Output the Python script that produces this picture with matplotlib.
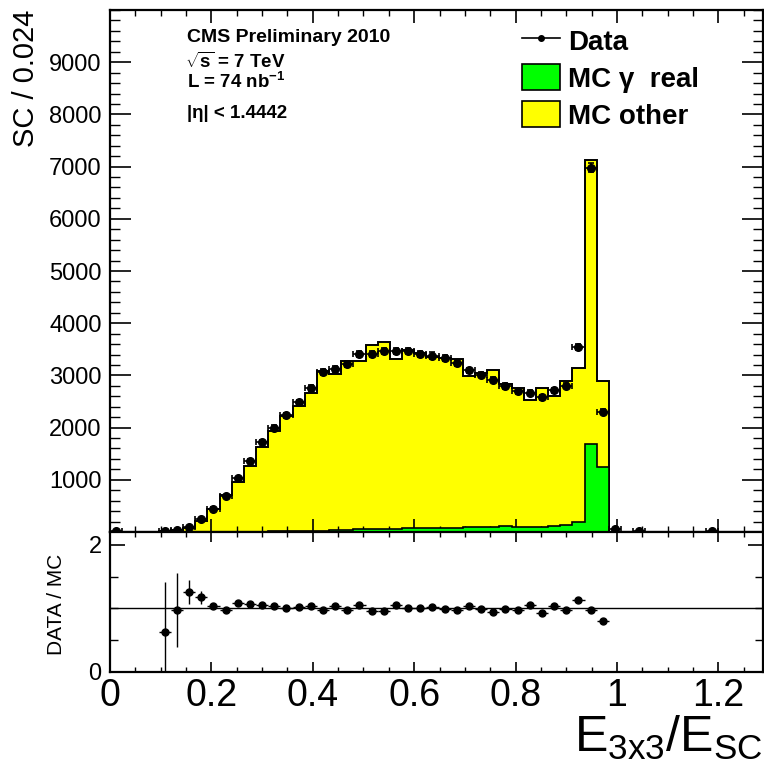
import matplotlib
matplotlib.use("Agg")
import matplotlib.pyplot as plt
import numpy as np
from matplotlib.lines import Line2D
from matplotlib.patches import Patch
from matplotlib.ticker import MultipleLocator, FixedLocator

plt.rcParams["font.family"] = ["Liberation Sans", "DejaVu Sans"]
plt.rcParams["mathtext.fontset"] = "custom"
plt.rcParams["mathtext.rm"] = "Liberation Sans"
plt.rcParams["mathtext.it"] = "Liberation Sans:italic"
plt.rcParams["mathtext.bf"] = "Liberation Sans:bold"

# 54 bins of width 0.024 from 0
bin_width = 0.024
n_bins = 54

data = [15, 0, 0, 0, 15, 35, 92, 253, 450, 686,
        1025, 1356, 1720, 1996, 2238, 2487, 2762, 3061, 3126, 3222,
        3414, 3414, 3464, 3464, 3464, 3414, 3381, 3324, 3241, 3094,
        3017, 2921, 2793, 2697, 2667, 2582, 2711, 2806, 3540, 6977,
        2303, 48, 0, 20, 0, 0, 0, 0, 0, 10,
        0, 0, 0, 0]

mc_total = [0, 0, 0, 0, 24, 36, 73, 216, 434, 700,
            950, 1265, 1625, 1935, 2230, 2420, 2665, 3090, 3020, 3272,
            3272, 3573, 3636, 3305, 3490, 3420, 3350, 3337, 3305, 2998,
            3040, 3113, 2826, 2750, 2525, 2762, 2605, 2889, 3145, 7136,
            2889, 0, 0, 0, 0, 0, 0, 0, 0, 0,
            0, 0, 0, 0]

mc_gamma_real = [0, 0, 0, 0, 0, 0, 0, 0, 0, 0,
                 3, 5, 8, 10, 12, 15, 20, 25, 35, 40,
                 50, 55, 60, 65, 75, 75, 70, 70, 80, 90,
                 95, 95, 120, 95, 100, 105, 120, 140, 200, 1680,
                 1250, 0, 0, 0, 0, 0, 0, 0, 0, 0,
                 0, 0, 0, 0]

# data / MC, bins 4..40
ratio_first_bin = 4
ratio = [0.626, 0.973, 1.257, 1.171, 1.037, 0.979, 1.080, 1.070, 1.059, 1.032,
         1.000, 1.027, 1.037, 0.979, 1.037, 0.979, 1.048, 0.957, 0.957, 1.059,
         1.000, 1.011, 1.021, 0.995, 0.979, 1.032, 0.995, 0.936, 0.989, 0.973,
         1.059, 0.930, 1.037, 0.973, 1.128, 0.973, 0.802]
ratio_err = [0.79, 0.58, 0.19, 0.10, 0.04, 0.03, 0.025, 0.02, 0.02, 0.02,
             0.02, 0.02, 0.02, 0.02, 0.02, 0.02, 0.02, 0.02, 0.02, 0.02,
             0.02, 0.02, 0.02, 0.02, 0.02, 0.02, 0.02, 0.02, 0.02, 0.02,
             0.02, 0.02, 0.02, 0.02, 0.02, 0.015, 0.02]

GREEN = "#00ff00"
YELLOW = "#ffff00"

edges = np.arange(n_bins + 1) * bin_width
centers = edges[:-1] + bin_width / 2
data = np.array(data, dtype=float)
mc_total = np.array(mc_total, dtype=float)
mc_gamma_real = np.array(mc_gamma_real, dtype=float)

fig = plt.figure(figsize=(7.64, 7.64), dpi=100)
W = H = 764.0
left, right = 110 / W, 763 / W
ax = fig.add_axes([left, 1 - 532 / H, right - left, (532 - 10) / H])
axr = fig.add_axes([left, 1 - 672 / H, right - left, (672 - 532) / H])

# stacked MC
ax.stairs(mc_total, edges, baseline=0, fill=True, color=YELLOW, zorder=1)
ax.stairs(mc_total, edges, baseline=0, color="black", lw=1.4, zorder=2)
ax.stairs(mc_gamma_real, edges, baseline=0, fill=True, color=GREEN, zorder=3)
ax.stairs(mc_gamma_real, edges, baseline=0, color="black", lw=1.2, zorder=4)

shown = data > 0
ax.errorbar(centers[shown], data[shown], xerr=bin_width / 2, yerr=np.sqrt(data[shown]),
            fmt="o", color="black", ms=5.5, lw=1.2, capsize=2.5, capthick=1.2, zorder=5)

ax.set_xlim(0, 1.288)
ax.set_ylim(0, 10000)
ax.yaxis.set_major_locator(FixedLocator(np.arange(1000, 10000, 1000)))
ax.yaxis.set_minor_locator(MultipleLocator(200))
ax.xaxis.set_major_locator(MultipleLocator(0.2))
ax.xaxis.set_minor_locator(MultipleLocator(0.05))
ax.tick_params(axis="both", which="both", direction="in", top=True, right=True)
ax.tick_params(axis="y", which="major", length=15, width=1.2, labelsize=17, pad=6)
ax.tick_params(axis="y", which="minor", length=7.5, width=1.0)
ax.tick_params(axis="x", which="major", length=9.5, width=1.2, labelbottom=False)
ax.tick_params(axis="x", which="minor", length=4.5, width=1.0)
for s in ax.spines.values():
    s.set_linewidth(1.6)

# ratio panel
r_x = centers[ratio_first_bin:ratio_first_bin + len(ratio)]
axr.axhline(1.0, color="black", lw=1.0, zorder=1)
axr.errorbar(r_x, ratio, xerr=bin_width / 2, yerr=ratio_err, fmt="o", color="black",
             ms=5, lw=1.0, capsize=0, zorder=3)
axr.set_xlim(0, 1.288)
axr.set_ylim(0, 2.2)
axr.yaxis.set_major_locator(FixedLocator([0, 2]))
axr.yaxis.set_minor_locator(MultipleLocator(0.5))
axr.xaxis.set_major_locator(MultipleLocator(0.2))
axr.xaxis.set_minor_locator(MultipleLocator(0.05))
axr.xaxis.set_major_formatter(plt.FuncFormatter(lambda v, p: f"{v:g}"))
axr.tick_params(axis="both", which="both", direction="in", top=True, right=True)
axr.tick_params(axis="y", which="major", length=11, width=1.2, labelsize=17, pad=6)
axr.tick_params(axis="y", which="minor", length=6, width=1.0)
axr.tick_params(axis="x", which="major", length=7, width=1.2, labelsize=27, pad=4)
axr.tick_params(axis="x", which="minor", length=3.5, width=1.0)
for s in axr.spines.values():
    s.set_linewidth(1.6)

# axis titles
fig.text(763 / W, 2 / H, r"$\mathregular{E_{3x3}/E_{SC}}$", fontsize=36,
         ha="right", va="bottom")
fig.text(26 / W, 1 - 10 / H, "SC / 0.024", fontsize=21, rotation=90,
         ha="center", va="top")
fig.text(57 / W, 1 - 604 / H, "DATA / MC", fontsize=15, rotation=90,
         ha="center", va="center")

# labels
ax.text(187 / W, 1 - 38 / H, "CMS Preliminary 2010", transform=fig.transFigure,
        fontsize=14, fontweight="bold", ha="left", va="center")
ax.text(185 / W, 1 - 62 / H, r"$\sqrt{\mathbf{s}}$ = 7 TeV", transform=fig.transFigure,
        fontsize=13.5, fontweight="bold", ha="left", va="center")
ax.text(187 / W, 1 - 82 / H, r"L = 74 nb$^{\mathbf{-1}}$", transform=fig.transFigure,
        fontsize=13.5, fontweight="bold", ha="left", va="center")
ax.text(187 / W, 1 - 113 / H, "|η| < 1.4442", transform=fig.transFigure,
        fontsize=13.5, fontweight="bold", ha="left", va="center")

handles = [
    Line2D([], [], color="black", lw=1.2, marker="o", ms=4),
    Patch(facecolor=GREEN, edgecolor="black", lw=1.2),
    Patch(facecolor=YELLOW, edgecolor="black", lw=1.2),
]
labels = ["Data", "MC γ  real", "MC other"]
ax.legend(handles, labels, loc="upper left",
          bbox_to_anchor=((522 - 110) / (763 - 110), (532 - 27) / 522),
          frameon=False, prop={"size": 20, "weight": "bold"},
          handlelength=1.37, handleheight=1.08, handletextpad=0.3,
          labelspacing=0.3, borderpad=0, borderaxespad=0)

fig.savefig("out.png", dpi=100)
